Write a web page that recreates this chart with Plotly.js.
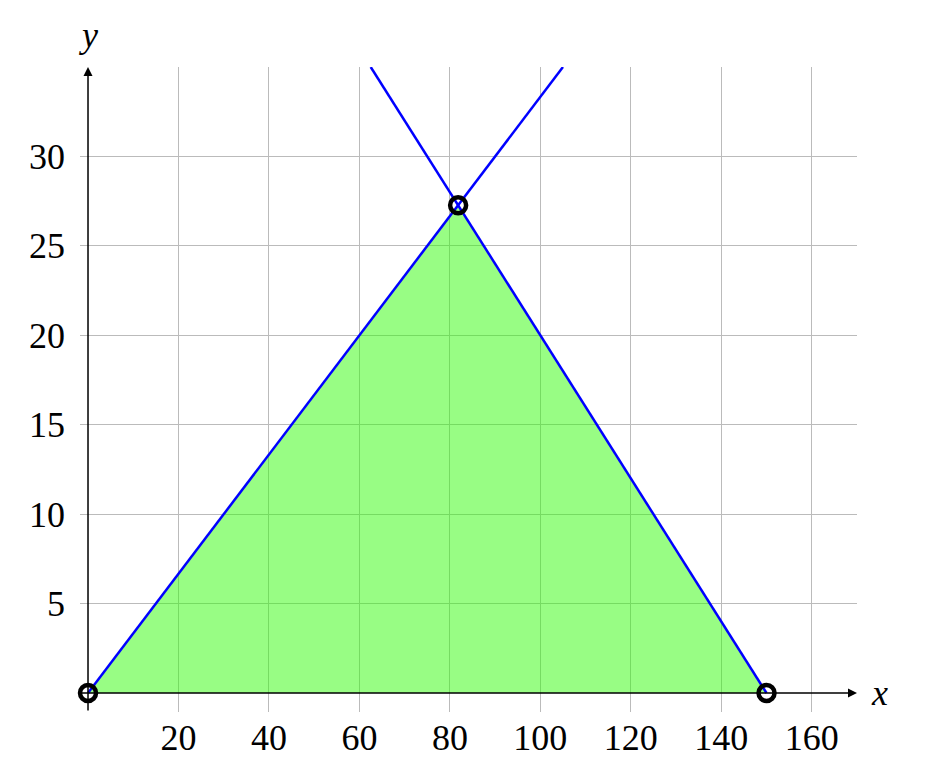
<!DOCTYPE html>
<html>
<head>
<meta charset="utf-8">
<script src="https://cdn.plot.ly/plotly-3.0.1.min.js"></script>
<style>html,body{margin:0;padding:0;background:#fff;}</style>
</head>
<body>
<div id="chart" style="width:930px;height:770px;"></div>
<script>
// Data
const line1X = [0, 105];
const line1Y = [0, 35];
const line2X = [62.5, 150];
const line2Y = [35, 0];
const regionX = [0, 81.82, 150];
const regionY = [0, 27.27, 0];
const vertexX = [0, 81.82, 150];
const vertexY = [0, 27.27, 0];
const xTicks = [20, 40, 60, 80, 100, 120, 140, 160];
const yTicks = [5, 10, 15, 20, 25, 30];

const FONT = "Liberation Serif, 'DejaVu Serif', serif";

const traces = [
  {x: regionX, y: regionY, type: 'scatter', mode: 'lines', fill: 'toself',
   fillcolor: 'rgba(50,252,10,0.5)', line: {width: 0}, hoverinfo: 'skip', showlegend: false},
  {x: line1X, y: line1Y, type: 'scatter', mode: 'lines',
   line: {color: '#0000ff', width: 2.5}, showlegend: false},
  {x: line2X, y: line2Y, type: 'scatter', mode: 'lines',
   line: {color: '#0000ff', width: 2.5}, showlegend: false},
  {x: vertexX, y: vertexY, type: 'scatter', mode: 'markers', cliponaxis: false,
   marker: {symbol: 'circle-open', size: 16, color: '#000', line: {width: 4.5, color: '#000'}},
   showlegend: false}
];

const layout = {
  width: 930, height: 770,
  margin: {l: 80, r: 73, t: 67, b: 58},
  paper_bgcolor: '#fff', plot_bgcolor: '#fff',
  font: {family: FONT, size: 36, color: '#000'},
  xaxis: {range: [-1.77, 170], tickvals: xTicks, ticktext: xTicks.map(String),
    showgrid: true, gridcolor: '#bbbbbb', gridwidth: 1, zeroline: false,
    showline: false, ticks: '', ticklabelstandoff: 1, tickfont: {family: FONT, size: 36}},
  yaxis: {range: [-1.06, 35], tickvals: yTicks, ticktext: yTicks.map(String),
    showgrid: true, gridcolor: '#bbbbbb', gridwidth: 1, zeroline: false,
    showline: false, ticks: '', ticklabelstandoff: 14, tickfont: {family: FONT, size: 36}},
  annotations: [
    {x: 170, y: 0, xref: 'x', yref: 'y', ax: -1.77, ay: 0, axref: 'x', ayref: 'y',
     showarrow: true, arrowhead: 2, arrowsize: 1.2, arrowwidth: 1.5, arrowcolor: '#000', text: ''},
    {x: 0, y: 35, xref: 'x', yref: 'y', ax: 0, ay: -1.06, axref: 'x', ayref: 'y',
     showarrow: true, arrowhead: 2, arrowsize: 1.2, arrowwidth: 1.5, arrowcolor: '#000', text: ''},
    {x: 1, y: 0, xref: 'paper', yref: 'y', xanchor: 'left', yanchor: 'middle', xshift: 12,
     text: '<i>x</i>', showarrow: false, font: {family: FONT, size: 36}},
    {x: 0, y: 1, xref: 'x', yref: 'paper', xanchor: 'center', yanchor: 'bottom', yshift: 10,
     text: '<i>y</i>', showarrow: false, font: {family: FONT, size: 36}}
  ]
};

Plotly.newPlot('chart', traces, layout, {displayModeBar: false, staticPlot: true});
</script>
</body>
</html>
